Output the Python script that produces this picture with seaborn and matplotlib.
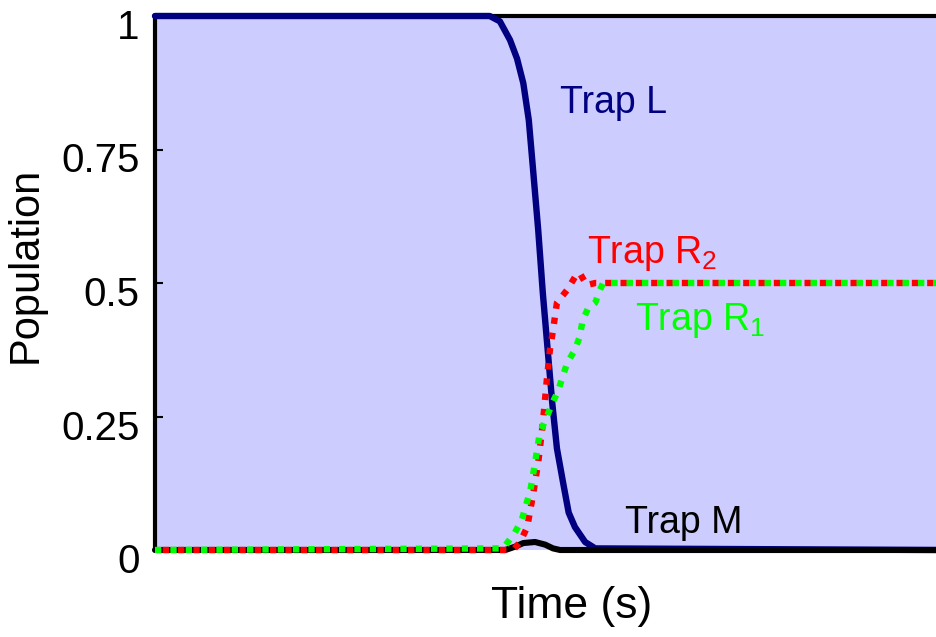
import matplotlib
matplotlib.use("Agg")
import matplotlib.pyplot as plt
import matplotlib.transforms as mtransforms
import seaborn as sns
import pandas as pd

# ---------------- data ----------------
t_L = [0, 42.8, 44.1, 45.4, 46.3, 47.1, 47.8, 48.3, 49.0, 49.6, 50.3, 50.8, 51.4, 52.2, 52.9, 53.7, 55.0, 56.3, 100]
pop_L = [1.0, 1.0, 0.99, 0.955, 0.92, 0.874, 0.805, 0.72, 0.60, 0.48, 0.36, 0.275, 0.19, 0.125, 0.07, 0.043, 0.015, 0.003, 0.0]

t_R2 = [0, 45.8, 46.7, 47.6, 48.3, 49.0, 49.6, 50.1, 50.5, 50.9, 51.4, 52.7, 53.7, 54.3, 55.2, 56.3, 100]
pop_R2 = [0.0, 0.0, 0.015, 0.043, 0.10, 0.163, 0.238, 0.318, 0.375, 0.412, 0.463, 0.487, 0.511, 0.519, 0.496, 0.50, 0.50]

t_R1 = [0, 44.5, 46.0, 46.9, 48.0, 48.6, 49.2, 50.1, 50.8, 51.5, 52.7, 53.7, 54.3, 54.7, 55.4, 56.3, 56.9, 57.3, 100]
pop_R1 = [0.0, 0.003, 0.032, 0.056, 0.112, 0.163, 0.219, 0.249, 0.275, 0.296, 0.35, 0.375, 0.399, 0.431, 0.453, 0.463, 0.487, 0.50, 0.50]

t_M = [0, 44.8, 46.0, 47.1, 48.6, 49.9, 50.9, 51.8, 100]
pop_M = [0.0, 0.0, 0.006, 0.013, 0.015, 0.010, 0.003, 0.0, 0.0]

ytick_vals = [0, 0.25, 0.5, 0.75, 1]
ytick_labels = ["0", "0.25", "0.5", "0.75", "1"]

labels = ["Trap L", "Trap R$_\\mathregular{2}$", "Trap R$_\\mathregular{1}$", "Trap M"]
label_t = [51.8, 55.2, 61.4, 60.1]
label_y = [0.818, 0.537, 0.412, 0.032]

# ---------------- style ----------------
sns.set_style("white")
plt.rcParams["font.family"] = ["Liberation Sans", "DejaVu Sans"]
plt.rcParams["text.color"] = "black"
plt.rcParams["axes.labelcolor"] = "black"
plt.rcParams["ytick.color"] = "black"

NAVY = "#000080"
RED = "#ff0000"
GREEN = "#00ff00"
FILL = "#ccccff"

fig = plt.figure(figsize=(9.37, 6.37), dpi=100)
ax = fig.add_axes([155 / 937, 87 / 637, 782 / 937, 534 / 637])
ax.set_facecolor(FILL)

df_L = pd.DataFrame({"t": t_L, "p": pop_L})
df_R2 = pd.DataFrame({"t": t_R2, "p": pop_R2})
df_R1 = pd.DataFrame({"t": t_R1, "p": pop_R1})
df_M = pd.DataFrame({"t": t_M, "p": pop_M})

sns.lineplot(data=df_L, x="t", y="p", ax=ax, color=NAVY, lw=4.6,
             estimator=None, sort=False, clip_on=False, zorder=2.6)
sns.lineplot(data=df_M, x="t", y="p", ax=ax, color="black", lw=4.4,
             estimator=None, sort=False, clip_on=False, zorder=3.1)
sns.lineplot(data=df_R2, x="t", y="p", ax=ax, color=RED, lw=4.6,
             estimator=None, sort=False, clip_on=False, zorder=3.2,
             linestyle=(1.2, (1.0, 1.4)))
sns.lineplot(data=df_R1, x="t", y="p", ax=ax, color=GREEN, lw=4.6,
             estimator=None, sort=False, clip_on=False, zorder=3.3,
             linestyle=(0, (1.0, 1.4)))

label_colors = [NAVY, RED, GREEN, "black"]
for txt, tx, ty, c in zip(labels, label_t, label_y, label_colors):
    ax.text(tx, ty, txt, color=c, fontsize=27, ha="left", va="baseline", zorder=5)

ax.set_xlim(0, 100)
ax.set_ylim(0, 1)
ax.set_xticks([])
ax.set_yticks(ytick_vals)
ax.set_yticklabels(ytick_labels)
ax.tick_params(axis="y", direction="in", length=6, width=1.5, labelsize=29, pad=11,
               left=True, right=False, colors="black")

for side in ["bottom", "right"]:
    ax.spines[side].set_visible(False)
for side in ["left", "top"]:
    ax.spines[side].set_visible(True)
    ax.spines[side].set_color("black")
    ax.spines[side].set_linewidth(3)

offset = mtransforms.ScaledTranslation(0, -8 / 100, fig.dpi_scale_trans)
for lab in ax.get_yticklabels():
    lab.set_transform(lab.get_transform() + offset)

ax.set_xlabel("Time (s)", fontsize=32, color="black")
ax.set_ylabel("Population", fontsize=30, color="black")
ax.xaxis.set_label_coords((572 - 155) / 782, (550 - 586) / 534)
ax.yaxis.set_label_coords((46 - 155) / 782, (550 - 265) / 534)

fig.savefig("out.png", dpi=100)
